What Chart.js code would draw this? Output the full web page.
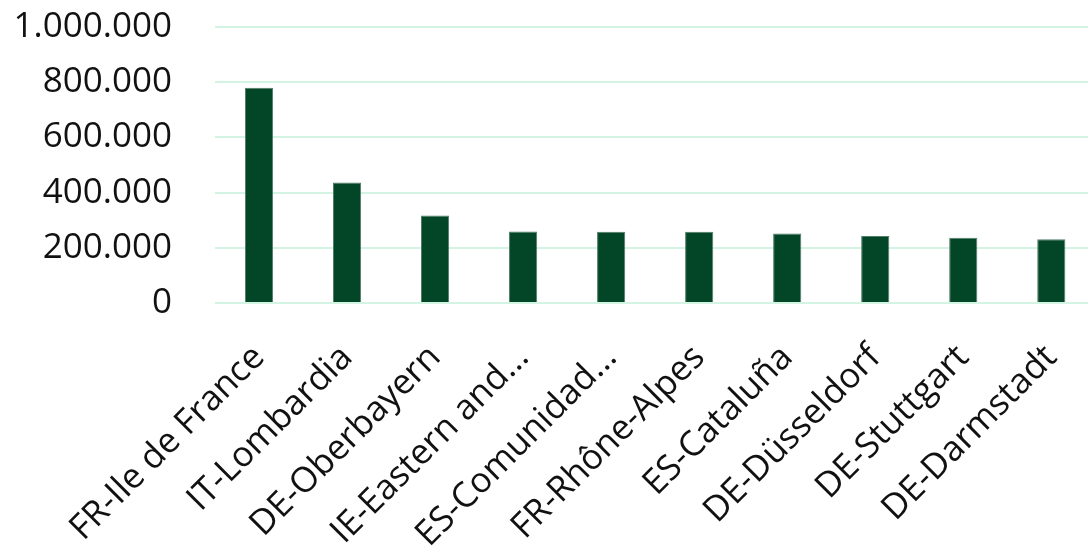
<!DOCTYPE html>
<html>
<head>
<meta charset="utf-8">
<script src="https://cdn.jsdelivr.net/npm/chart.js"></script>
<style>
  html, body { margin: 0; padding: 0; background: #fff; overflow: hidden; width: 1088px; height: 546px; }
  #chart { display: block; margin-top: -37px; }
</style>
</head>
<body>
<canvas id="chart" width="1107" height="583"></canvas>
<script>
// regions and values
const regions = ['FR-Ile de France', 'IT-Lombardia', 'DE-Oberbayern', 'IE-Eastern and...',
    'ES-Comunidad...', 'FR-Rhône-Alpes', 'ES-Cataluña', 'DE-Düsseldorf', 'DE-Stuttgart', 'DE-Darmstadt'];
const values = [780000, 437000, 317000, 259000, 258000, 258000, 252000, 243000, 236000, 231000];
const yTicks = [0, 200000, 400000, 600000, 800000, 1000000];

function dotFormat(v) {
    return String(Math.round(v)).replace(/\B(?=(\d{3})+(?!\d))/g, '.');
}

const ctx = document.getElementById('chart').getContext('2d');
new Chart(ctx, {
    type: 'bar',
    data: {
        labels: regions,
        datasets: [{
            data: values,
            backgroundColor: '#034527',
            borderColor: '#4f7d66',
            borderWidth: 1,
            barPercentage: 0.32,
            categoryPercentage: 1
        }]
    },
    options: {
        responsive: false,
        animation: false,
        layout: { padding: 0 },
        plugins: {
            legend: { display: false },
            tooltip: { enabled: false }
        },
        scales: {
            y: {
                min: 0,
                max: 1000000,
                afterBuildTicks: function(scale) {
                    scale.ticks = yTicks.map(v => ({ value: v }));
                },
                afterFit: function(scale) { scale.width = 215; },
                border: { display: false },
                grid: { color: '#d3f3e3', lineWidth: 2, drawTicks: false },
                ticks: {
                    padding: 43,
                    color: '#111',
                    font: { family: 'Open Sans', size: 35 },
                    callback: v => dotFormat(v)
                }
            },
            x: {
                afterFit: function(scale) { scale.height = 243; },
                border: { display: false },
                grid: { display: false },
                ticks: {
                    autoSkip: false,
                    minRotation: 45,
                    maxRotation: 45,
                    padding: 26,
                    color: '#111',
                    font: { family: 'Open Sans', size: 35 }
                }
            }
        }
    }
});
</script>
</body>
</html>
